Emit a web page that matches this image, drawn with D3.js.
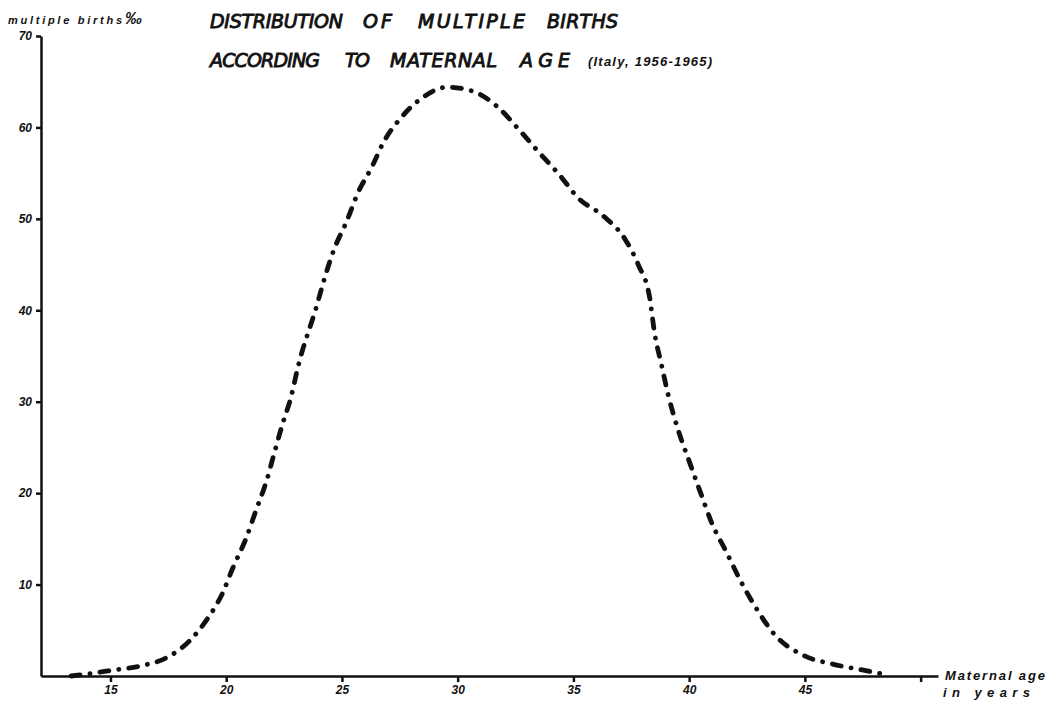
<!DOCTYPE html>
<html>
<head>
<meta charset="utf-8">
<script src="https://cdn.jsdelivr.net/npm/d3@7"></script>
<style>
  body { margin: 0; background: #fff; }
  svg { display: block; }
  .lbl { font-family: "Liberation Sans", Arial, sans-serif; font-style: italic; font-weight: bold; fill: #111; }
  .ttl { font-family: "DejaVu Sans", sans-serif; font-style: italic; font-weight: normal; fill: #111; stroke: #111; stroke-width: 0.9; }
  .axis path, .axis line { stroke: #111; stroke-width: 2.5; }
  .axis text { font-family: "Liberation Sans", Arial, sans-serif; font-style: italic; font-weight: bold; font-size: 12px; fill: #111; }
</style>
</head>
<body>
<div id="viz"></div>
<script>

// maternal age (years) and multiple births per thousand
const ages  = [13.3, 14.5, 15.0, 16.3, 17.5, 18.4, 19.2, 19.85, 20.3, 20.85, 21.3, 21.75, 22.1, 22.45, 22.8, 23.1,
               23.9, 24.25, 24.65, 25.2, 25.7, 26.3, 26.8, 27.5, 28.5, 29.55, 30.6, 31.7, 32.6, 33.5, 34.4, 35.2,
               36.3, 37.25, 37.8, 38.3, 38.5, 38.8, 39.1, 39.5, 40.0, 40.5, 41.0, 41.6, 42.2, 42.9, 43.7, 44.9,
               46.2, 47.4, 48.4];
const rates = [0.0, 0.4, 0.6, 1.1, 2.1, 3.8, 6.3, 9.1, 11.9, 15.0, 18.2, 21.4, 24.6, 27.7, 30.5, 33.8,
               40.4, 43.5, 46.6, 49.7, 52.9, 55.7, 58.4, 60.9, 63.3, 64.4, 64.0, 62.3, 59.9, 57.3, 54.8, 52.3,
               50.3, 47.7, 45.0, 41.3, 37.6, 34.1, 30.7, 27.1, 23.5, 20.0, 16.6, 13.6, 10.5, 7.4, 4.5, 2.3,
               1.3, 0.7, 0.2];

const xTicks = [15, 20, 25, 30, 35, 40, 45, 50];
const yTicks = [10, 20, 30, 40, 50, 60, 70];

// title words
const title1 = ["DISTRIBUTION", "OF", "MULTIPLE", "BIRTHS"];
const title2 = ["ACCORDING", "TO", "MATERNAL", "AGE"];

const width = 1053, height = 704;

const svg = d3.select("#viz")
  .append("svg")
  .attr("width", width)
  .attr("height", height);

const x = d3.scaleLinear()
    .domain([12, 50.75])
    .range([41, 938]);

const y = d3.scaleLinear()
    .domain([0, 70])
    .range([676, 36]);

// x axis, the tick at 50 has no label
svg.append("g")
    .attr("class", "axis")
    .attr("transform", `translate(0, ${y(0)})`)
    .call(d3.axisBottom(x)
        .tickValues(xTicks)
        .tickSize(6)
        .tickSizeOuter(0)
        .tickPadding(3)
        .tickFormat(d => d === 50 ? "" : d));

// y axis
svg.append("g")
    .attr("class", "axis")
    .attr("transform", `translate(${x(12)}, 0)`)
    .call(d3.axisLeft(y)
        .tickValues(yTicks)
        .tickSize(5)
        .tickSizeOuter(0)
        .tickPadding(4));

// the dash-dot curve
const data = ages.map((a, i) => ({age: a, rate: rates[i]}));

const line = d3.line()
    .x(d => x(d.age))
    .y(d => y(d.rate))
    .curve(d3.curveMonotoneX);

svg.append("path")
    .datum(data)
    .attr("d", line)
    .attr("fill", "none")
    .attr("stroke", "#111")
    .attr("stroke-width", 4.8)
    .attr("stroke-linecap", "round")
    .attr("stroke-dasharray", "9,10,0.1,10");

// titles, word by word
const t1x = [210, 363, 418, 547], t1w = [133, 29, 107, 71];
const t2x = [210, 345, 390, 520], t2w = [110, 25, 107, 50];

svg.selectAll(".t1")
  .data(title1)
  .enter()
  .append("text")
    .attr("class", "ttl")
    .attr("x", (d, i) => t1x[i])
    .attr("y", 28)
    .attr("font-size", 19)
    .attr("textLength", (d, i) => t1w[i])
    .attr("lengthAdjust", "spacing")
    .text(d => d);

svg.selectAll(".t2")
  .data(title2)
  .enter()
  .append("text")
    .attr("class", "ttl")
    .attr("x", (d, i) => t2x[i])
    .attr("y", 67)
    .attr("font-size", 19)
    .attr("textLength", (d, i) => t2w[i])
    .attr("lengthAdjust", "spacing")
    .text(d => d);

svg.append("text")
    .attr("class", "lbl")
    .attr("x", 588)
    .attr("y", 66)
    .attr("font-size", 13)
    .attr("textLength", 124)
    .attr("lengthAdjust", "spacing")
    .text("(Italy, 1956-1965)");

// axis titles
const yTitle = svg.append("text")
    .attr("class", "lbl")
    .attr("x", 8)
    .attr("y", 24)
    .attr("font-size", 11);
yTitle.append("tspan")
    .attr("textLength", 114)
    .attr("lengthAdjust", "spacing")
    .text("multiple births");
yTitle.append("tspan")
    .attr("x", 125)
    .attr("font-size", 17)
    .text("‰");

svg.append("text")
    .attr("class", "lbl")
    .attr("x", 945)
    .attr("y", 680)
    .attr("font-size", 13)
    .attr("textLength", 100)
    .attr("lengthAdjust", "spacing")
    .text("Maternal age");

svg.append("text")
    .attr("class", "lbl")
    .attr("x", 943)
    .attr("y", 697)
    .attr("font-size", 13)
    .attr("textLength", 87)
    .attr("lengthAdjust", "spacing")
    .text("in years");

</script>
</body>
</html>
